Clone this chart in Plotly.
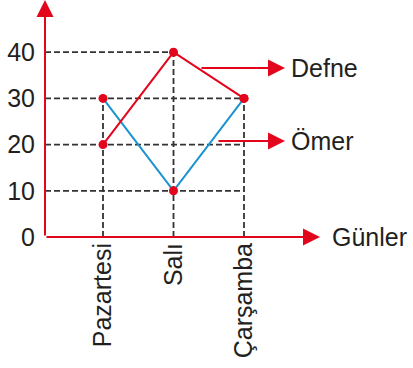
import plotly.graph_objects as go

days = ["Pazartesi", "Salı", "Çarşamba"]
defne = [20, 40, 30]
omer = [30, 10, 30]
y_ticks = [0, 10, 20, 30, 40]
series_names = ["Defne", "Ömer"]
axis_title = "Günler"

RED = "#e3051b"
BLUE = "#1a94d0"
TXT = "#231f20"
GRID = "#333333"
FONT = "Liberation Sans, Arial, sans-serif"

W, H = 413, 368
ML, MB = 45, 131
px_per_x = 70.5
px_per_y = 4.62
x_axis = -(103 - ML) / px_per_x
plot_w = W - ML
plot_h = H - MB
x_max = x_axis + plot_w / px_per_x
y_max = plot_h / px_per_y

xi = list(range(len(days)))

def px2x(p):
    return x_axis + (p - ML) / px_per_x

def py2y(p):
    return (plot_h - p) / px_per_y

fig = go.Figure()

shapes = []
maxv = [max(a, b) for a, b in zip(defne, omer)]
for v in y_ticks[1:]:
    idx = max(i for i in xi if maxv[i] >= v)
    shapes.append(dict(type="line", xref="x", yref="y", x0=x_axis, x1=idx, y0=v, y1=v,
                       line=dict(color=GRID, width=1.8, dash="6px,3px"), layer="below"))
for i in xi:
    shapes.append(dict(type="line", xref="x", yref="y", x0=i, x1=i, y0=0, y1=maxv[i],
                       line=dict(color=GRID, width=1.8, dash="6px,3px"), layer="below"))

fig.add_trace(go.Scatter(x=xi, y=omer, mode="lines+markers", name=series_names[1],
                         line=dict(color=BLUE, width=2), marker=dict(color=RED, size=9),
                         cliponaxis=False))
fig.add_trace(go.Scatter(x=xi, y=defne, mode="lines+markers", name=series_names[0],
                         line=dict(color=RED, width=2), marker=dict(color=RED, size=9),
                         cliponaxis=False))

annotations = []
# y axis arrow
annotations.append(dict(x=x_axis, y=py2y(0), ax=x_axis, ay=0, xref="x", yref="y", axref="x", ayref="y",
                        text="", showarrow=True, arrowhead=2, arrowsize=1.7, arrowwidth=2,
                        arrowcolor=RED, standoff=0, startstandoff=0))
# x axis arrow
annotations.append(dict(x=px2x(320), y=0, ax=x_axis, ay=0, xref="x", yref="y", axref="x", ayref="y",
                        text="", showarrow=True, arrowhead=2, arrowsize=1.7, arrowwidth=2,
                        arrowcolor=RED, standoff=0, startstandoff=0))
annotations.append(dict(x=px2x(330), y=0, xref="x", yref="y", text=axis_title, showarrow=False,
                        xanchor="left", yanchor="middle", font=dict(size=25, color=TXT, family=FONT)))
# series label arrows
for name, y_px, x0_px in [(series_names[0], 68, 200), (series_names[1], 141, 217)]:
    yy = py2y(y_px)
    annotations.append(dict(x=px2x(285), y=yy, ax=px2x(x0_px), ay=yy, xref="x", yref="y",
                            axref="x", ayref="y", text="", showarrow=True, arrowhead=2,
                            arrowsize=1.7, arrowwidth=2, arrowcolor=RED, standoff=0))
    annotations.append(dict(x=px2x(289), y=yy, xref="x", yref="y", text=name, showarrow=False,
                            xanchor="left", yanchor="middle", font=dict(size=25, color=TXT, family=FONT)))

fig.update_layout(
    width=W, height=H, margin=dict(l=ML, r=0, t=0, b=MB),
    paper_bgcolor="white", plot_bgcolor="white", showlegend=False,
    shapes=shapes, annotations=annotations,
    font=dict(family=FONT, color=TXT, size=25),
    xaxis=dict(range=[x_axis, x_max], tickvals=xi, ticktext=days, tickangle=-90,
               showgrid=False, zeroline=False, showline=False, ticks="",
               tickfont=dict(size=25, color=TXT, family=FONT)),
    yaxis=dict(range=[0, y_max], tickvals=y_ticks, showgrid=False, zeroline=False, showline=False,
               ticks="outside", ticklen=4, tickcolor="rgba(0,0,0,0)",
               tickfont=dict(size=25, color=TXT, family=FONT)),
)

fig.write_html("out.html", config={"displayModeBar": False},
               post_script="document.body.style.margin='0';document.body.style.overflow='hidden';")
